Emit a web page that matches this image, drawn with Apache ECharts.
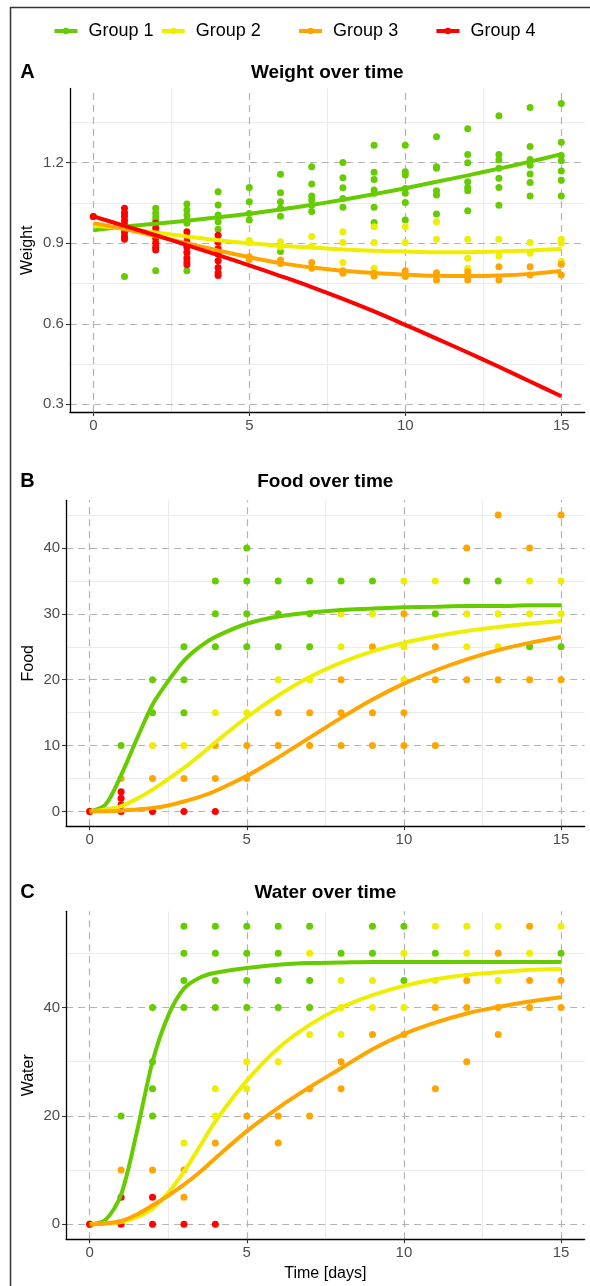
<!DOCTYPE html>
<html><head><meta charset="utf-8">
<script src="https://cdn.jsdelivr.net/npm/echarts@6/dist/echarts.min.js"></script>
<style>html,body{margin:0;padding:0;background:#fff}#c{width:590px;height:1286px}</style>
</head><body><div id="c"></div>
<script>
const groups = ['Group 1', 'Group 2', 'Group 3', 'Group 4'];
const groupColors = ['#66CC00', '#EEEE00', '#FFA500', '#FF0000'];
const panelTitles = ['Weight over time', 'Food over time', 'Water over time'];
const panelLetters = ['A', 'B', 'C'];
const yNames = ['Weight', 'Food', 'Water'];
const xName = 'Time [days]';

const xTicks = [0, 5, 10, 15];
const xMinor = [2.5, 7.5, 12.5];
const weightTicks = [0.3, 0.6, 0.9, 1.2];
const weightMinor = [0.45, 0.75, 1.05, 1.35];
const foodTicks = [0, 10, 20, 30, 40];
const foodMinor = [5, 15, 25, 35, 45];
const waterTicks = [0, 20, 40];
const waterMinor = [10, 30, 50];

// ---- Weight points [day, value]
const weightG1 = [[0,1.0],[1,1.013],[1,0.776],[2,1.03],[2,1.013],[2,0.998],[2,0.985],[2,0.798],
  [3,1.046],[3,1.024],[3,1.005],[3,0.987],[3,0.975],[3,0.798],
  [4,1.092],[4,1.043],[4,1.005],[4,0.98],[4,0.952],
  [5,1.108],[5,1.055],[5,1.011],[5,0.987],
  [6,1.157],[6,1.088],[6,1.055],[6,1.03],[6,1.001],[6,0.869],
  [7,1.185],[7,1.121],[7,1.076],[7,1.061],[7,1.042],[7,1.018],
  [8,1.201],[8,1.144],[8,1.107],[8,1.067],[8,1.034],
  [9,1.265],[9,1.165],[9,1.138],[9,1.098],[9,1.086],[9,1.034],[9,0.977],
  [10,1.265],[10,1.166],[10,1.154],[10,1.104],[10,1.086],[10,1.052],[10,0.987],
  [11,1.297],[11,1.185],[11,1.179],[11,1.096],[11,1.08],[11,1.009],
  [12,1.327],[12,1.231],[12,1.2],[12,1.129],[12,1.108],[12,1.096],[12,1.021],
  [13,1.375],[13,1.231],[13,1.21],[13,1.179],[13,1.142],[13,1.108],[13,1.042],
  [14,1.406],[14,1.26],[14,1.212],[14,1.191],[14,1.158],[14,1.126],[14,1.076],
  [15,1.421],[15,1.276],[15,1.227],[15,1.207],[15,1.169],[15,1.135],[15,1.076]];
const weightG2 = [[0,1.0],[1,0.96],[1,0.95],[2,0.945],[2,0.93],[3,0.92],[3,0.844],[4,0.905],[4,0.89],
  [5,0.902],[5,0.91],[6,0.906],[6,0.887],[7,0.925],[7,0.89],[8,0.943],[8,0.903],[8,0.828],
  [9,0.962],[9,0.903],[9,0.807],[10,0.962],[10,0.903],[11,0.98],[11,0.915],
  [12,0.915],[12,0.844],[12,0.807],[13,0.915],[13,0.853],[14,0.903],[14,0.863],
  [15,0.915],[15,0.9],[15,0.832]];
const weightG3 = [[0,1.0],[1,0.96],[1,0.95],[2,0.93],[2,0.91],[3,0.9],[3,0.87],[4,0.87],[4,0.86],
  [5,0.85],[5,0.84],[6,0.838],[6,0.825],[7,0.828],[7,0.807],[8,0.798],[8,0.788],
  [9,0.788],[9,0.778],[10,0.798],[10,0.776],[11,0.79],[11,0.763],[12,0.794],[12,0.763],
  [13,0.813],[13,0.763],[14,0.813],[14,0.782],[15,0.822],[15,0.782]];
const weightG4 = [[0,1.0],[1,1.03],[1,1.013],[1,1.0],[1,0.985],[1,0.97],[1,0.955],[1,0.94],[1,0.925],[1,0.915],
  [2,0.975],[2,0.957],[2,0.94],[2,0.92],[2,0.9],[2,0.885],[2,0.875],
  [3,0.943],[3,0.925],[3,0.905],[3,0.885],[3,0.865],[3,0.845],[3,0.83],[3,0.82],
  [4,0.93],[4,0.905],[4,0.88],[4,0.86],[4,0.835],[4,0.81],[4,0.79],[4,0.78]];

// ---- Food points
const foodG1 = [[0,0],[1,10],[2,20],[2,15],[3,25],[3,20],[3,15],[4,35],[4,30],[4,25],
  [5,40],[5,35],[5,30],[5,25],[6,35],[6,30],[6,25],[7,35],[7,30],[7,25],
  [8,35],[9,35],[11,30],[12,35],[13,35],[14,25],[15,25]];
const foodG2 = [[0,0],[2,10],[3,10],[4,15],[5,15],[6,20],[7,20],[8,30],[8,25],[9,30],
  [10,35],[10,25],[10,20],[11,35],[12,30],[12,25],[13,30],[13,25],[14,35],[14,30],[15,35],[15,30]];
const foodG3 = [[0,0],[1,5],[2,5],[3,5],[4,5],[5,5],[4,10],[5,10],[6,10],[7,10],[8,10],[9,10],[10,10],[11,10],
  [6,15],[7,15],[8,15],[9,15],[10,15],[8,20],[11,20],[12,20],[13,20],[14,20],[15,20],
  [9,25],[11,25],[10,30],[12,40],[14,40],[13,45],[15,45]];
const foodG4 = [[0,0],[1,3],[1,2],[1,1],[1,0],[2,0],[3,0],[4,0]];

// ---- Water points
const waterG1 = [[0,0],[1,20],[2,40],[2,30],[2,25],[2,20],[3,55],[3,50],[3,45],[3,40],
  [4,55],[4,50],[4,45],[4,40],[5,55],[5,50],[5,45],[5,40],[6,55],[6,50],[6,45],[6,40],
  [7,55],[7,45],[7,40],[8,50],[9,55],[9,50],[10,55],[10,45],[11,50],[15,50]];
const waterG2 = [[0,0],[3,15],[4,25],[4,20],[5,30],[5,25],[6,30],[7,50],[7,35],[8,45],[8,40],[8,35],
  [9,45],[9,40],[10,50],[10,40],[11,55],[11,45],[12,55],[12,50],[13,55],[13,45],[14,50],[15,55]];
const waterG3 = [[0,0],[1,10],[2,10],[3,10],[3,5],[4,15],[5,20],[6,20],[6,15],[7,25],[7,20],[8,25],[8,30],
  [9,35],[10,35],[11,25],[11,40],[12,45],[12,40],[12,30],[13,50],[13,40],[13,35],[14,55],[14,45],[14,40],
  [15,45],[15,40]];
const waterG4 = [[0,0],[1,5],[1,0],[2,5],[2,0],[3,0],[4,0]];

// ---- Fitted trend lines
const trendDaysA = [0,1,2,3,4,5,6,7,8,9,10,11,12,13,14,15];
const weightFit1 = [0.948,0.962,0.973,0.984,0.997,1.010,1.026,1.043,1.062,1.083,1.105,1.129,1.153,1.178,1.204,1.232];
const weightFit2 = [0.965,0.955,0.94,0.925,0.911,0.9,0.891,0.884,0.877,0.872,0.869,0.867,0.867,0.869,0.873,0.879];
const weightFit3 = [0.975,0.953,0.927,0.9,0.873,0.848,0.826,0.81,0.798,0.789,0.783,0.779,0.778,0.78,0.786,0.797];
const weightFit4 = [1.0,0.965,0.93,0.893,0.856,0.818,0.778,0.737,0.693,0.646,0.596,0.545,0.493,0.44,0.385,0.33];

const trendDaysBC = [0,0.5,1,1.5,2,2.5,3,3.5,4,5,6,7,8,9,10,11,12,13,14,15];
const foodFit1 = [0,1.0,5.5,11,16.2,19.8,22.9,25,26.5,28.5,29.6,30.2,30.6,30.8,31.0,31.1,31.2,31.2,31.3,31.3];
const foodFit2 = [0,0.3,0.8,1.9,3.3,4.9,6.6,8.5,10.5,14.3,17.6,20.4,22.6,24.3,25.6,26.6,27.4,28.0,28.5,28.9];
const foodFit3 = [0,0.03,0.1,0.3,0.5,0.9,1.5,2.2,3.1,5.4,8.2,11.2,14.2,17.0,19.4,21.4,23.1,24.5,25.6,26.5];
const waterFit1 = [0,0.8,5.5,17,30,38.5,43.5,45.5,46.4,47.3,47.9,48.2,48.3,48.4,48.4,48.4,48.4,48.4,48.4,48.4];
const waterFit2 = [0,0.15,0.4,1.3,2.9,5.8,9.7,14.3,19,26.5,32.5,36.8,40,42.3,44,45.2,46,46.5,46.9,47.1];
const waterFit3 = [0,0.15,0.6,1.8,3.5,5.3,7.3,9.6,12.2,17.2,21.5,25.3,28.8,32.3,35.1,37.2,38.9,40.1,41.1,41.9];

// ---------- build
const FONT = '"Liberation Sans", Arial, Helvetica, sans-serif';
const panels = [
  { grid: {left: 69.9, right: 5.3, top: 88.5, height: 323.5}, yMin: 0.2715, yMax: 1.4765,
    ticks: weightTicks, minor: weightMinor, fmt: v => v.toFixed(1), nameGap: 34,
    points: [weightG1, weightG2, weightG3, weightG4],
    fitX: trendDaysA, fits: [weightFit1, weightFit2, weightFit3, weightFit4] },
  { grid: {left: 66.1, right: 5.4, top: 500.3, height: 325.9}, yMin: -2.25, yMax: 47.25,
    ticks: foodTicks, minor: foodMinor, fmt: v => String(v), nameGap: 30,
    points: [foodG1, foodG2, foodG3, foodG4],
    fitX: trendDaysBC, fits: [foodFit1, foodFit2, foodFit3] },
  { grid: {left: 66.1, right: 5.4, top: 911.3, height: 327.9}, yMin: -2.75, yMax: 57.75,
    ticks: waterTicks, minor: waterMinor, fmt: v => String(v), nameGap: 30,
    points: [waterG1, waterG2, waterG3, waterG4],
    fitX: trendDaysBC, fits: [waterFit1, waterFit2, waterFit3] }
];

const grids = [], xAxes = [], yAxes = [], series = [], graphics = [];
const minorStyle = {color: '#EBEBEB', width: 1, type: 'solid'};
const majorStyle = {color: '#B3B3B3', width: 1.2, type: [7, 5]};

panels.forEach((p, i) => {
  grids.push(p.grid);
  xAxes.push({
    type: 'value', gridIndex: i, min: -0.75, max: 15.75,
    name: i === 2 ? xName : '', nameLocation: 'middle', nameGap: 26, nameMoveOverlap: false,
    nameTextStyle: {fontFamily: FONT, fontSize: 16, color: '#000'},
    axisLine: {show: true, onZero: false, lineStyle: {color: '#000', width: 1.3}},
    axisTick: {show: true, customValues: xTicks, length: 4, lineStyle: {color: '#333', width: 1.1}},
    axisLabel: {customValues: xTicks, fontFamily: FONT, fontSize: 15, color: '#4D4D4D', margin: 6},
    splitLine: {show: false}
  });
  yAxes.push({
    type: 'value', gridIndex: i, min: p.yMin, max: p.yMax,
    name: yNames[i], nameLocation: 'middle', nameRotate: 90, nameGap: p.nameGap, nameMoveOverlap: false,
    nameTextStyle: {fontFamily: FONT, fontSize: 16, color: '#000'},
    axisLine: {show: true, onZero: false, lineStyle: {color: '#000', width: 1.3}},
    axisTick: {show: true, customValues: p.ticks, length: 4, lineStyle: {color: '#333', width: 1.1}},
    axisLabel: {customValues: p.ticks, formatter: p.fmt, fontFamily: FONT, fontSize: 15, color: '#4D4D4D', margin: 6},
    splitLine: {show: false}
  });
  const mlData = [];
  xMinor.forEach(v => mlData.push({xAxis: v, lineStyle: minorStyle}));
  p.minor.forEach(v => mlData.push({yAxis: v, lineStyle: minorStyle}));
  xTicks.forEach(v => mlData.push({xAxis: v, lineStyle: majorStyle}));
  p.ticks.forEach(v => mlData.push({yAxis: v, lineStyle: majorStyle}));
  series.push({
    type: 'line', name: 'grid' + i, xAxisIndex: i, yAxisIndex: i, data: [], silent: true, z: 0,
    markLine: {silent: true, z: 0, symbol: ['none', 'none'], label: {show: false}, animation: false, data: mlData}
  });
  p.points.forEach((pts, g) => {
    series.push({
      type: 'scatter', name: groups[g], xAxisIndex: i, yAxisIndex: i, data: pts,
      symbol: 'circle', symbolSize: 7, z: 2, animation: false,
      itemStyle: {color: groupColors[g], opacity: 1}
    });
  });
  p.fits.forEach((f, g) => {
    series.push({
      type: 'line', name: groups[g], xAxisIndex: i, yAxisIndex: i,
      data: p.fitX.map((x, k) => [x, f[k]]), smooth: 0.3, showSymbol: false, z: 3, animation: false,
      lineStyle: {color: groupColors[g], width: 4}, itemStyle: {color: groupColors[g]}
    });
  });
  const cx = p.grid.left + (590 - p.grid.left - p.grid.right) / 2;
  const ty = p.grid.top - (i === 0 ? 16 : 19);
  graphics.push({type: 'text', x: cx, y: ty, style: {text: panelTitles[i], fontFamily: FONT,
    fontSize: 19, fontWeight: 'bold', fill: '#000', textAlign: 'center', textVerticalAlign: 'middle'}});
  graphics.push({type: 'text', x: 27.5, y: ty, style: {text: panelLetters[i], fontFamily: FONT,
    fontSize: 20, fontWeight: 'bold', fill: '#000', textAlign: 'center', textVerticalAlign: 'middle'}});
});

graphics.unshift({type: 'rect', shape: {x: 10.5, y: 7.5, width: 620, height: 1320}, silent: true,
  style: {fill: 'none', stroke: '#333', lineWidth: 1.5}});

const iconPath = 'path://M0,1.5 L23,1.5 L23,5.5 L0,5.5 Z M8.2,3.5 A3.3,3.3 0 1 1 14.8,3.5 A3.3,3.3 0 1 1 8.2,3.5 Z';
const legendLefts = [54.5, 161.8, 299.1, 436.4];
const legends = groups.map((g, k) => ({
  data: [{name: g, icon: iconPath}], left: legendLefts[k], top: 22, padding: 0,
  itemWidth: 23, itemHeight: 7, selectedMode: false,
  textStyle: {fontFamily: FONT, fontSize: 18, color: '#000', padding: [0, 0, 0, 6]}
}));

const chart = echarts.init(document.getElementById('c'), null, {renderer: 'canvas'});
chart.setOption({
  animation: false,
  backgroundColor: '#fff',
  legend: legends,
  grid: grids, xAxis: xAxes, yAxis: yAxes, series: series, graphic: graphics
});
</script></body></html>
